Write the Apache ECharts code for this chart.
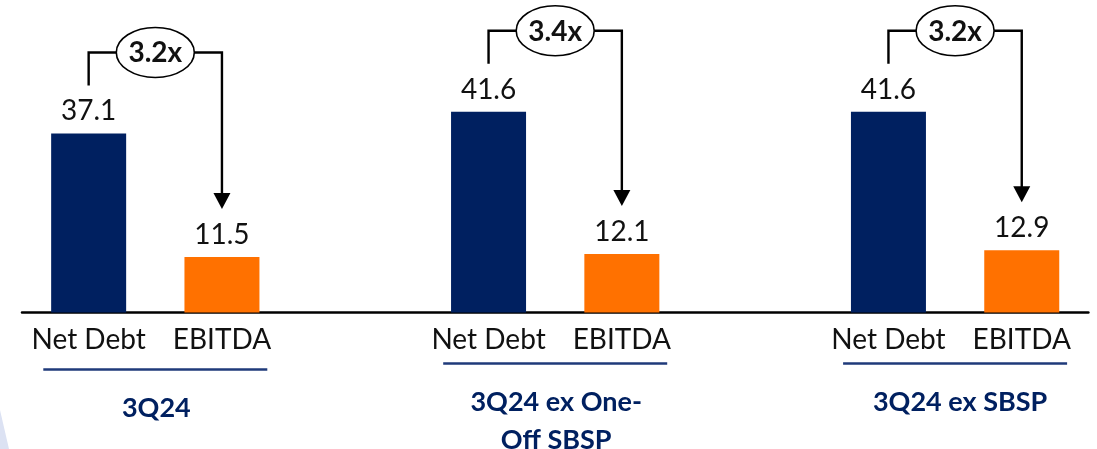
<!DOCTYPE html>
<html>
<head>
<meta charset="utf-8">
<script src="https://cdn.jsdelivr.net/npm/echarts@6/dist/echarts.min.js"></script>
<style>
  html, body { margin: 0; padding: 0; background: #ffffff; }
  #chart { width: 1097px; height: 449px; }
</style>
</head>
<body>
<div id="chart"></div>
<script>
// Leverage: Net Debt vs EBITDA for three bases
const groups = ['3Q24', '3Q24 ex One-\nOff SBSP', '3Q24 ex SBSP'];
const metricNames = ['Net Debt', 'EBITDA'];
const netDebt = [37.1, 41.6, 41.6];
const ebitda = [11.5, 12.1, 12.9];
const multiples = ['3.2x', '3.4x', '3.2x'];

const NAVY = '#002060';
const ORANGE = '#FF7100';
const FONT = 'Lato, "Open Sans", sans-serif';

// Each group takes three slots on the category axis: Net Debt, EBITDA, spacer
const categories = [];
const values = [];
groups.forEach((g, i) => {
  categories.push(metricNames[0], metricNames[1]);
  values.push(
    { value: netDebt[i], itemStyle: { color: NAVY } },
    { value: ebitda[i], itemStyle: { color: ORANGE } }
  );
  if (i < groups.length - 1) { categories.push(''); values.push('-'); }
});

const chart = echarts.init(document.getElementById('chart'));

chart.setOption({
  animation: false,
  backgroundColor: '#ffffff',
  grid: { left: 22, right: 8.6, top: 22.9, bottom: 136.5, containLabel: false },
  xAxis: {
    type: 'category',
    data: categories,
    boundaryGap: true,
    axisLine: { show: true, lineStyle: { color: '#000000', width: 2.5 } },
    axisTick: { show: false },
    axisLabel: {
      interval: 0,
      margin: 13,
      color: '#111111',
      fontFamily: FONT,
      fontSize: 28
    }
  },
  yAxis: {
    type: 'value',
    min: 0,
    max: 60,
    show: false,
    splitLine: { show: false }
  },
  series: [{
    type: 'bar',
    data: values,
    barWidth: 75,
    label: {
      show: true,
      position: 'top',
      distance: 8,
      color: '#111111',
      fontFamily: FONT,
      fontSize: 28,
      formatter: p => Number(p.value).toFixed(1)
    }
  }]
});

// Brackets, multiples, underlines and group captions placed from the axis scales
function buildAnnotations() {
  const els = [];
  const toPx = (slot, v) => chart.convertToPixel({ xAxisIndex: 0, yAxisIndex: 0 }, [slot, v]);
  const captionShift = [6, 0, 0];

  groups.forEach((g, i) => {
    const pN = toPx(3 * i, netDebt[i]);
    const pE = toPx(3 * i + 1, ebitda[i]);
    const base = toPx(3 * i, 0);
    const xN = pN[0], xE = pE[0];
    const mid = (xN + xE) / 2;
    const yBar = pN[1] - 81;
    const yLeft = pN[1] - 48;
    const tip = pE[1] - 48;
    const rx = 39, ry = 25;
    const stroke = { stroke: '#000000', lineWidth: 2.4, fill: null };

    els.push({ type: 'polyline', shape: { points: [[xN, yLeft], [xN, yBar], [mid - rx, yBar]] }, style: stroke, z: 10 });
    els.push({ type: 'polyline', shape: { points: [[mid + rx, yBar], [xE, yBar], [xE, tip - 14]] }, style: stroke, z: 10 });
    els.push({ type: 'polygon', shape: { points: [[xE - 8.5, tip - 16], [xE + 8.5, tip - 16], [xE, tip]] }, style: { fill: '#000000' }, z: 10 });
    els.push({ type: 'ellipse', shape: { cx: mid, cy: yBar, rx: rx, ry: ry }, style: { fill: '#ffffff', stroke: '#000000', lineWidth: 1.6 }, z: 11 });
    els.push({
      type: 'text', x: mid, y: yBar + 1, z: 12,
      style: { text: multiples[i], fill: '#111111', font: 'bold 28px ' + FONT, align: 'center', verticalAlign: 'middle' }
    });

    // underline and caption for the group
    const uy = base[1] + 51 + captionShift[i];
    els.push({ type: 'line', shape: { x1: mid - 112, y1: uy, x2: mid + 112, y2: uy }, style: { stroke: '#1F3A7A', lineWidth: 2.6 }, z: 10 });
    els.push({
      type: 'text', x: mid + (i === 2 ? 5 : 1), y: base[1] + 71 + captionShift[i], z: 10,
      style: { text: g, fill: NAVY, font: 'bold 27px ' + FONT, align: 'center', verticalAlign: 'top', lineHeight: 38 }
    });
  });

  // faint background wedge in the lower-left corner
  els.push({
    type: 'polygon', z: 0,
    shape: { points: [[0, 410], [9, 449], [0, 449]] },
    style: { fill: '#DCE2F3' }
  });

  chart.setOption({ graphic: els });
}

buildAnnotations();
</script>
</body>
</html>
